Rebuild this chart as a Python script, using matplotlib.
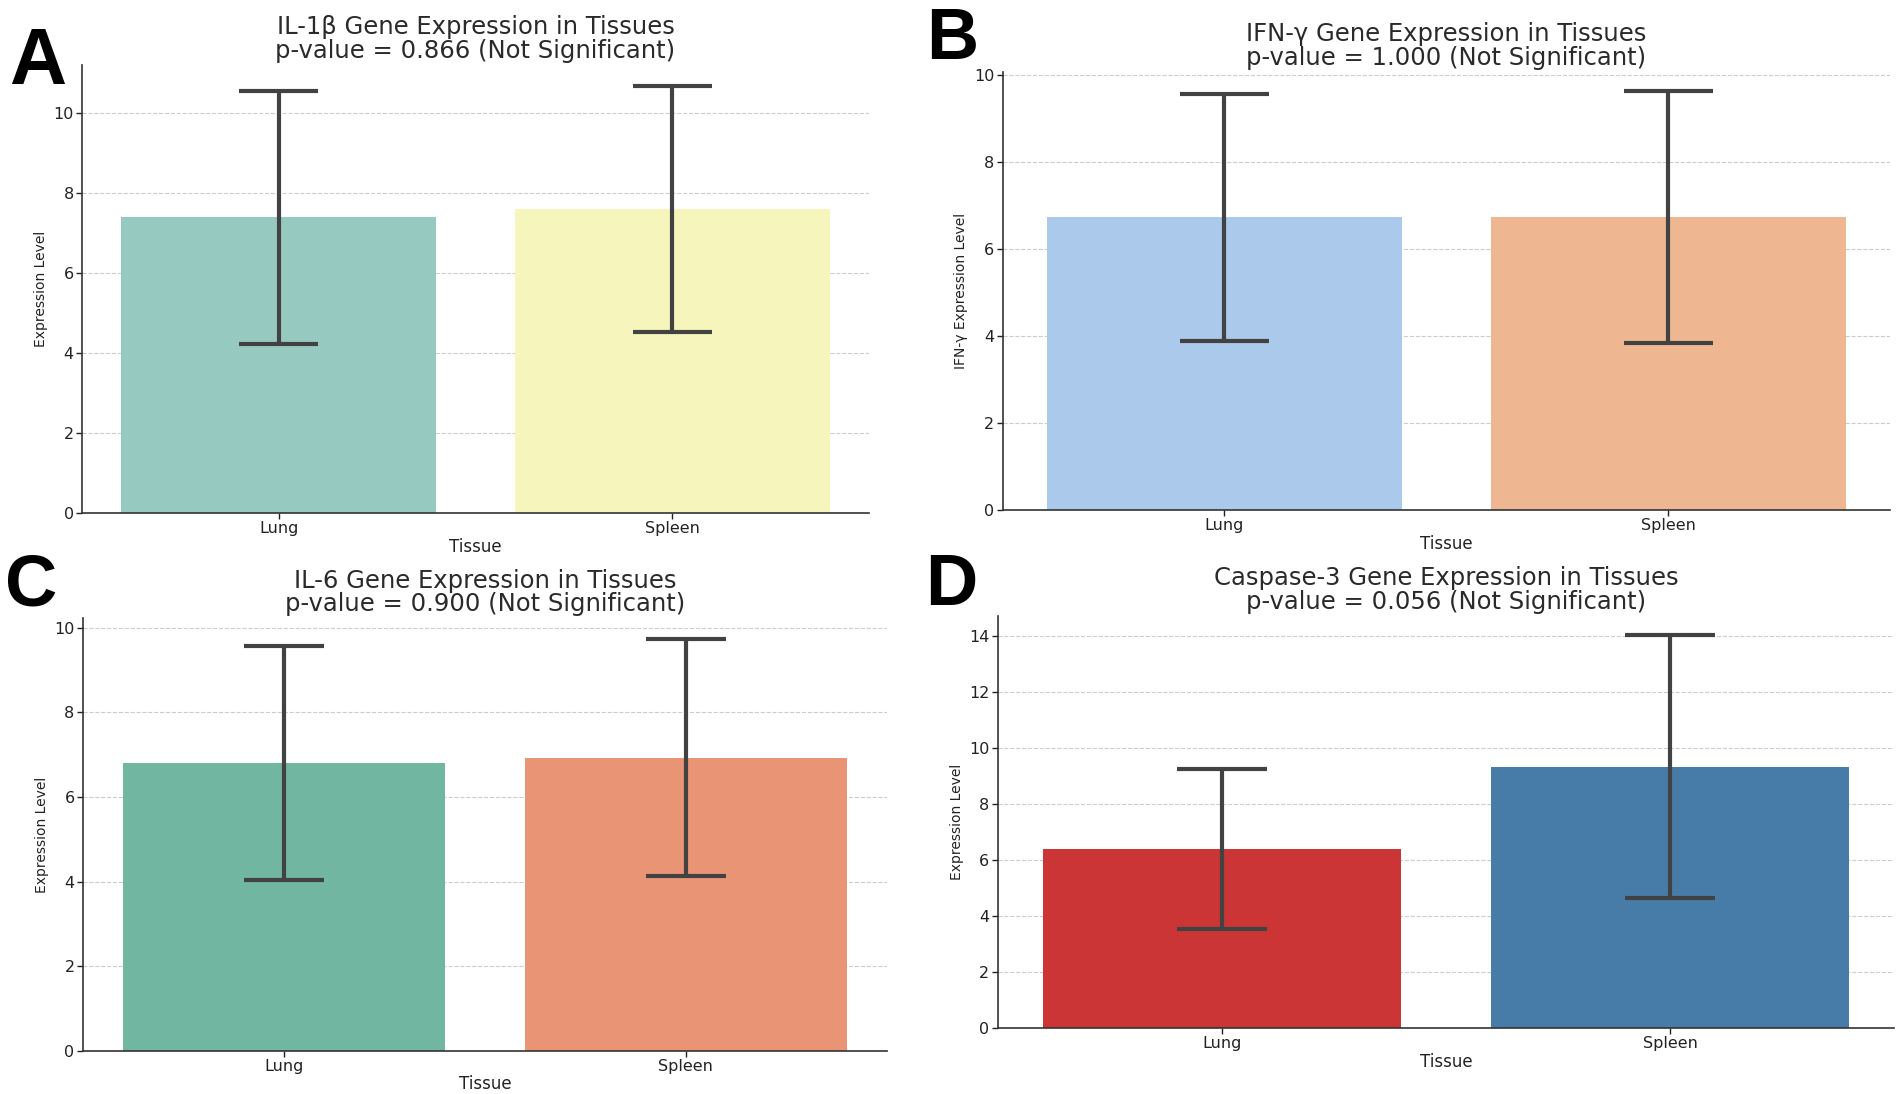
import matplotlib
matplotlib.use("Agg")
import matplotlib.pyplot as plt

# Data
tissues = ["Lung", "Spleen"]

il1b_mean = [7.39, 7.60]
il1b_err = [3.16, 3.08]

ifng_mean = [6.73, 6.73]
ifng_err = [2.84, 2.90]

il6_mean = [6.80, 6.93]
il6_err = [2.76, 2.81]

casp3_mean = [6.40, 9.34]
casp3_err = [2.87, 4.70]

titles = [
    "IL-1\u03b2 Gene Expression in Tissues\np-value = 0.866 (Not Significant)",
    "IFN-\u03b3 Gene Expression in Tissues\np-value = 1.000 (Not Significant)",
    "IL-6 Gene Expression in Tissues\np-value = 0.900 (Not Significant)",
    "Caspase-3 Gene Expression in Tissues\np-value = 0.056 (Not Significant)",
]
ylabels = ["Expression Level", "IFN-\u03b3 Expression Level",
           "Expression Level", "Expression Level"]
letters = ["A", "B", "C", "D"]

colors = [
    ["#96cac1", "#f5f5bc"],
    ["#abc9ea", "#efb791"],
    ["#71b6a0", "#e99575"],
    ["#cb3536", "#477ca8"],
]
ylims = [11.2, 10.08, 10.22, 14.74]
yticks = [range(0, 11, 2), range(0, 11, 2), range(0, 11, 2), range(0, 15, 2)]

# axes boxes in figure fractions
boxes = [
    [0.0431, 0.5311, 0.4138, 0.4095],
    [0.5271, 0.5338, 0.4666, 0.4008],
    [0.0436, 0.0396, 0.4227, 0.3951],
    [0.5246, 0.0603, 0.4712, 0.3769],
]
letter_pos = [(9, 84, 57), (926, 59, 52), (5, 605, 52), (925, 605, 52)]

means = [il1b_mean, ifng_mean, il6_mean, casp3_mean]
errs = [il1b_err, ifng_err, il6_err, casp3_err]

W, H = 1902, 1094
fig = plt.figure(figsize=(W / 100, H / 100), dpi=100)
fig.patch.set_facecolor("white")

for i in range(4):
    ax = fig.add_axes(boxes[i])
    x = list(range(len(tissues)))
    ax.bar(x, means[i], width=0.8, color=colors[i], zorder=2)
    lo = [m - e for m, e in zip(means[i], errs[i])]
    hi = [m + e for m, e in zip(means[i], errs[i])]
    ax.vlines(x, lo, hi, color="#424242", lw=3, zorder=3)
    ax.hlines(lo, [v - 0.1 for v in x], [v + 0.1 for v in x], color="#424242", lw=3, zorder=3)
    ax.hlines(hi, [v - 0.1 for v in x], [v + 0.1 for v in x], color="#424242", lw=3, zorder=3)

    ax.set_xlim(-0.5, 1.5)
    ax.set_ylim(0, ylims[i])
    ax.set_xticks(x)
    ax.set_xticklabels(tissues)
    ax.set_yticks(list(yticks[i]))
    ax.tick_params(axis="both", labelsize=11.5, length=4, width=1, pad=2, colors="#222222")
    ax.yaxis.grid(True, linestyle="--", color="#cccccc", lw=0.8, zorder=0)
    ax.set_axisbelow(True)
    for s in ["top", "right"]:
        ax.spines[s].set_visible(False)
    for s in ["left", "bottom"]:
        ax.spines[s].set_color("#333333")
        ax.spines[s].set_linewidth(1.2)

    ax.set_xlabel("Tissue", fontsize=12, labelpad=1, color="#222222")
    ax.set_ylabel(ylabels[i], fontsize=10, labelpad=4, color="#222222")
    ax.set_title(titles[i], fontsize=17.5, linespacing=0.98, pad=5, color="#2a2a2a")

    lx, ly, fs = letter_pos[i]
    fig.text(lx / W, 1 - ly / H, letters[i], fontsize=fs, fontweight="bold",
             family="Liberation Sans", ha="left", va="baseline", color="black")

fig.savefig("out.png", dpi=100, facecolor="white")
